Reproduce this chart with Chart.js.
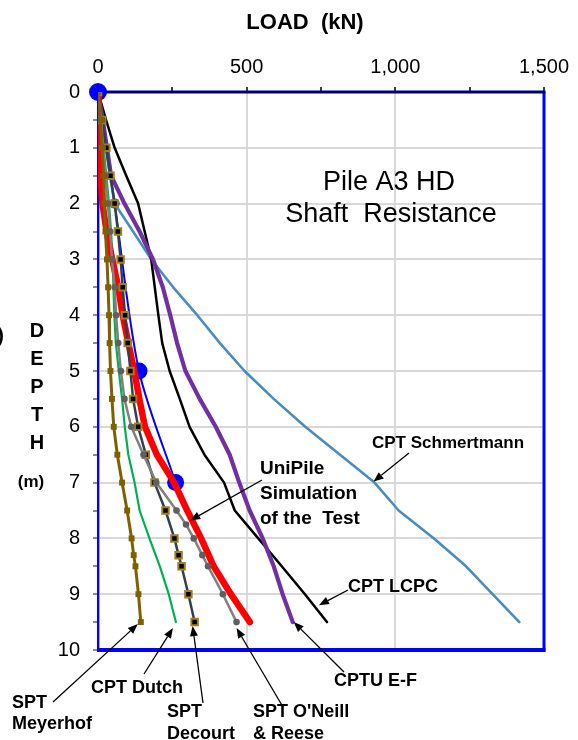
<!DOCTYPE html>
<html>
<head>
<meta charset="utf-8">
<script src="https://cdn.jsdelivr.net/npm/chart.js@4.4.1/dist/chart.umd.min.js"></script>
<style>
  html, body { margin: 0; padding: 0; background: #ffffff; }
  #wrap { width: 578px; height: 740px; }
</style>
</head>
<body>
<div id="wrap"><canvas id="c" width="578" height="740"></canvas></div>
<script>
// Depths (m) at which each method reports its cumulative shaft resistance
const depthStd    = [0, 0.5, 1, 1.5, 2, 2.5, 3, 3.5, 4, 4.5, 5, 5.5, 6, 6.5, 7, 7.5, 8, 8.5, 9, 9.5];
const depthSpt    = [0, 0.5, 1, 1.5, 2, 2.5, 3, 3.5, 4, 4.5, 5, 5.5, 6, 6.5, 7, 7.5, 8, 8.3, 8.5, 9, 9.5];
const depthOneill = [0, 0.5, 1, 1.5, 2, 2.5, 3, 3.5, 4, 4.5, 5, 5.5, 6, 6.5, 7, 7.5, 7.75, 8, 8.3, 8.5, 9, 9.5];
const depthTest   = [0, 2, 5, 7];

// Shaft resistance (kN)
const loadTest         = [0, 56, 138, 261];
const loadUniPile      = [0, 2, 5, 9, 15, 29, 48, 68, 83, 102, 122, 139, 158, 198, 256, 300, 347, 389, 447, 511];
const loadSchmertmann  = [0, 14, 27, 40, 56, 118, 179, 253, 334, 410, 493, 591, 697, 814, 930, 1011, 1130, 1238, 1327, 1417];
const loadLcpc         = [0, 27, 56, 95, 135, 157, 179, 191, 203, 216, 241, 275, 308, 358, 424, 460, 539, 618, 696, 770];
const loadCptuEF       = [0, 16, 30, 44, 89, 140, 185, 218, 243, 266, 294, 342, 396, 443, 475, 510, 554, 591, 621, 655];
const loadDutch        = [0, 10, 19, 28, 37, 44, 49, 52, 55, 60, 70, 81, 90, 102, 123, 140, 173, 208, 238, 262];
const loadOneill       = [0, 11, 16, 25, 33, 41, 47, 56, 61, 68, 77, 89, 112, 153, 196, 264, 296, 322, 351, 370, 420, 466];
const loadDecourt      = [0, 14, 28, 42, 56, 67, 76, 83, 91, 100, 109, 118, 135, 161, 190, 227, 257, 271, 281, 304, 325];
const loadMeyerhof     = [0, 8, 14, 19, 22, 25, 30, 34, 37, 39, 42, 47, 53, 65, 81, 98, 113, 120, 126, 136, 144];

// Axis tick labels
const loadTickLabels  = { 0: '0', 500: '500', 1000: '1,000', 1500: '1,500' };
const depthTickLabels = ['0', '1', '2', '3', '4', '5', '6', '7', '8', '9', '10'];

const FONT = '"Liberation Sans", Arial, sans-serif';
const pts = (d, l) => d.map((v, i) => ({ x: l[i], y: v }));

function series(label, d, l, style) {
  return Object.assign({
    label: label,
    data: pts(d, l),
    showLine: true,
    fill: false,
    tension: 0,
    pointRadius: 0,
    pointHoverRadius: 0,
    borderCapStyle: 'round',
    borderJoinStyle: 'round'
  }, style);
}

// Datasets listed top-most first (Chart.js paints index 0 last)
const datasets = [
  series('SPT Meyerhof', depthSpt, loadMeyerhof, {
    borderColor: '#7f6000', borderWidth: 3,
    pointStyle: 'rect', pointRadius: 4.2, pointBackgroundColor: '#7f6000', pointBorderColor: '#7f6000', pointBorderWidth: 0
  }),
  series("SPT O'Neill & Reese", depthOneill, loadOneill, {
    borderColor: '#808080', borderWidth: 2.5,
    pointStyle: 'circle', pointRadius: 3.3, pointBackgroundColor: '#5f5f5f', pointBorderColor: '#5f5f5f', pointBorderWidth: 0
  }),
  series('SPT Decourt', depthSpt, loadDecourt, {
    borderColor: '#333f50', borderWidth: 2.5,
    pointStyle: 'rect', pointRadius: 4.6, pointBackgroundColor: '#000000', pointBorderColor: '#a0801e', pointBorderWidth: 2
  }),
  series('UniPile Simulation of the Test', depthStd, loadUniPile, {
    borderColor: '#ff0000', borderWidth: 6.5
  }),
  series('CPT Dutch', depthStd, loadDutch, {
    borderColor: '#00b050', borderWidth: 2.2
  }),
  series('CPTU E-F', depthStd, loadCptuEF, {
    borderColor: '#7030a0', borderWidth: 4.2
  }),
  series('CPT LCPC', depthStd, loadLcpc, {
    borderColor: '#000000', borderWidth: 2.5
  }),
  series('CPT Schmertmann', depthStd, loadSchmertmann, {
    borderColor: '#4a8cc0', borderWidth: 2.6
  }),
  series('Test', depthTest, loadTest, {
    borderColor: '#0000ff', borderWidth: 2, tension: 0.3, clip: false,
    pointStyle: 'circle', pointRadius: [9, 5, 8.5, 8.5],
    pointBackgroundColor: '#0000ff', pointBorderColor: '#0000ff', pointBorderWidth: 0
  })
];

const seriesByName = {
  meyerhof: [depthSpt, loadMeyerhof],
  dutch: [depthStd, loadDutch],
  decourt: [depthSpt, loadDecourt],
  oneill: [depthOneill, loadOneill],
  cptu: [depthStd, loadCptuEF],
  lcpc: [depthStd, loadLcpc],
  schm: [depthStd, loadSchmertmann],
  unipile: [depthStd, loadUniPile]
};

// Callout labels with leader arrows pointing at a point of a curve
const callouts = [
  { lines: ['CPT Schmertmann'], size: 17, tx: 372, ty: 443, lh: 0, s: 'schm', i: 14, dx: -1, dy: -1, tail: [409, 453] },
  { lines: ['CPT LCPC'], size: 18, tx: 348, ty: 587, lh: 0, s: 'lcpc', i: 18, dx: 14, dy: 11, tail: [348, 590] },
  { lines: ['UniPile', 'Simulation', 'of the  Test'], size: 19, tx: 260, ty: 469, lh: 25, s: 'unipile', i: 15, dx: 3, dy: 10, tail: [262, 480] },
  { lines: ['CPTU E-F'], size: 18, tx: 334, ty: 681, lh: 0, s: 'cptu', i: 19, dx: 1, dy: 0, tail: [344, 672] },
  { lines: ["SPT O'Neill", '& Reese'], size: 18, tx: 253, ty: 712, lh: 22, s: 'oneill', i: 21, dx: 0, dy: 6, tail: [283, 707] },
  { lines: ['SPT', 'Decourt'], size: 18, tx: 167, ty: 712, lh: 22, s: 'decourt', i: 20, dx: -2, dy: 4, tail: [203, 703] },
  { lines: ['CPT Dutch'], size: 18, tx: 91, ty: 688, lh: 0, s: 'dutch', i: 19, dx: -3, dy: 6, tail: [144, 674] },
  { lines: ['SPT', 'Meyerhof'], size: 18, tx: 12, ty: 703, lh: 21, s: 'meyerhof', i: 20, dx: -3, dy: 2, tail: [53, 702] }
];

function arrow(ctx, x0, y0, x1, y1) {
  const a = Math.atan2(y1 - y0, x1 - x0);
  const L = 10, W = 4;
  const bx = x1 - L * Math.cos(a), by = y1 - L * Math.sin(a);
  ctx.beginPath();
  ctx.moveTo(x0, y0);
  ctx.lineTo(bx, by);
  ctx.stroke();
  ctx.beginPath();
  ctx.moveTo(x1, y1);
  ctx.lineTo(bx + W * Math.sin(a), by - W * Math.cos(a));
  ctx.lineTo(bx - W * Math.sin(a), by + W * Math.cos(a));
  ctx.closePath();
  ctx.fill();
}

const framePlugin = {
  id: 'frame',
  beforeDatasetsDraw(chart) {
    const { ctx, chartArea: a } = chart;
    ctx.save();
    ctx.strokeStyle = '#9d9de0';
    ctx.lineWidth = 1;
    ctx.beginPath(); ctx.moveTo(a.left + 1.5, a.top); ctx.lineTo(a.left + 1.5, a.bottom); ctx.stroke();
    ctx.strokeStyle = '#0000ff';
    ctx.lineWidth = 2;
    ctx.beginPath(); ctx.moveTo(a.left, a.top); ctx.lineTo(a.left, a.bottom); ctx.stroke();
    ctx.lineWidth = 3;
    ctx.beginPath(); ctx.moveTo(a.right, a.top); ctx.lineTo(a.right, a.bottom + 1.5); ctx.stroke();
    ctx.lineWidth = 4;
    ctx.beginPath(); ctx.moveTo(a.left - 1, a.bottom); ctx.lineTo(a.right + 1.5, a.bottom); ctx.stroke();
    ctx.strokeStyle = '#00007a';
    ctx.lineWidth = 3;
    ctx.beginPath(); ctx.moveTo(a.left, a.top); ctx.lineTo(a.right + 1.5, a.top); ctx.stroke();
    ctx.restore();
  }
};

const textPlugin = {
  id: 'texts',
  afterDraw(chart) {
    const { ctx } = chart;
    const xs = chart.scales.x, ys = chart.scales.y;
    ctx.save();
    ctx.fillStyle = '#000000';
    ctx.textBaseline = 'middle';

    // Axis titles
    ctx.textAlign = 'center';
    ctx.font = 'bold 22px ' + FONT;
    ctx.fillText('LOAD  (kN)', 305, 23);
    ctx.font = 'bold 20px ' + FONT;
    ['D', 'E', 'P', 'T', 'H'].forEach((c, k) => ctx.fillText(c, 37, 331 + k * 28.2));
    ctx.font = 'bold 17px ' + FONT;
    ctx.fillText('(m)', 31, 482);
    ctx.textAlign = 'right';
    ctx.font = 'bold 20px ' + FONT;
    ctx.fillText(')', 4, 336);

    // Caption inside the plot
    ctx.textAlign = 'center';
    ctx.font = '27px ' + FONT;
    ctx.fillText('Pile A3 HD', 389, 183);
    ctx.fillText('Shaft  Resistance', 391, 215);

    // Callouts
    ctx.textAlign = 'left';
    ctx.strokeStyle = '#000000';
    ctx.lineWidth = 1.3;
    callouts.forEach(c => {
      ctx.font = 'bold ' + c.size + 'px ' + FONT;
      c.lines.forEach((t, k) => ctx.fillText(t, c.tx, c.ty + k * c.lh));
      const [d, l] = seriesByName[c.s];
      const px = xs.getPixelForValue(l[c.i]) + c.dx;
      const py = ys.getPixelForValue(d[c.i]) + c.dy;
      arrow(ctx, c.tail[0], c.tail[1], px, py);
    });
    ctx.restore();
  }
};

new Chart(document.getElementById('c'), {
  type: 'line',
  data: { datasets: datasets },
  plugins: [framePlugin, textPlugin],
  options: {
    responsive: false,
    devicePixelRatio: 1,
    animation: false,
    events: [],
    layout: { padding: { left: 0, top: 0, right: 34, bottom: 90 } },
    plugins: { legend: { display: false }, tooltip: { enabled: false }, title: { display: false } },
    scales: {
      x: {
        type: 'linear',
        position: 'top',
        min: 0, max: 1500,
        afterFit: s => { s.height = 92; },
        border: { display: false },
        grid: {
          color: c => (c.tick && c.tick.value % 500 === 0 && c.tick.value > 0 && c.tick.value < 1500) ? '#d9d9d9' : 'rgba(0,0,0,0)',
          lineWidth: 2,
          tickColor: '#404040',
          tickLength: 5,
          drawTicks: true
        },
        ticks: {
          stepSize: 250,
          padding: 8,
          color: '#000000',
          font: { family: FONT, size: 20 },
          maxRotation: 0,
          autoSkip: false,
          callback: v => (loadTickLabels[v] !== undefined ? loadTickLabels[v] : '')
        }
      },
      y: {
        type: 'linear',
        reverse: true,
        min: 0, max: 10,
        afterFit: s => { s.width = 98; },
        border: { display: false },
        grid: {
          color: c => (c.tick && Number.isInteger(c.tick.value) && c.tick.value > 0 && c.tick.value < 10) ? '#d9d9d9' : 'rgba(0,0,0,0)',
          lineWidth: 2,
          tickColor: '#8c8c8c',
          tickLength: 5,
          drawTicks: true
        },
        ticks: {
          stepSize: 0.5,
          padding: 13,
          color: '#000000',
          font: { family: FONT, size: 20 },
          autoSkip: false,
          callback: v => (Number.isInteger(v) ? depthTickLabels[v] : '')
        }
      }
    }
  }
});
</script>
</body>
</html>
